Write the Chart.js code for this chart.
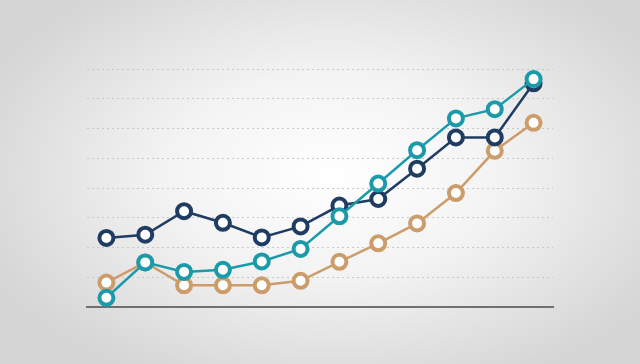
<!DOCTYPE html>
<html>
<head>
<meta charset="utf-8">
<script src="https://cdn.jsdelivr.net/npm/chart.js@4/dist/chart.umd.min.js"></script>
<style>
  html, body { margin: 0; padding: 0; }
  body {
    width: 640px; height: 364px; overflow: hidden;
    background: radial-gradient(ellipse 58% 62% at 52% 48%, #ffffff 0%, #f3f3f3 45%, #d6d6d6 100%);
  }
  #wrap { width: 640px; height: 364px; }
</style>
</head>
<body>
<div id="wrap"><canvas id="chart" width="640" height="364"></canvas></div>
<script>
  const labels = ["1", "2", "3", "4", "5", "6", "7", "8", "9", "10", "11", "12"];
  const navyValues = [2.32, 2.43, 3.22, 2.83, 2.34, 2.71, 3.41, 3.63, 4.65, 5.70, 5.70, 7.52];
  const tealValues = [0.31, 1.50, 1.18, 1.25, 1.53, 1.95, 3.05, 4.15, 5.27, 6.34, 6.65, 7.66];
  const tanValues = [0.82, 1.50, 0.73, 0.73, 0.73, 0.88, 1.52, 2.14, 2.81, 3.83, 5.25, 6.19];

  function series(data, color, order) {
    return {
      data: data,
      borderColor: color,
      borderWidth: 2.5,
      pointBackgroundColor: "#ffffff",
      pointBorderColor: color,
      pointBorderWidth: 4,
      pointRadius: 7,
      pointHoverRadius: 7,
      tension: 0,
      clip: false,
      order: order,
    };
  }

  new Chart(document.getElementById("chart"), {
    type: "line",
    data: {
      labels: labels,
      datasets: [
        series(tealValues, "#1b9aa9", 0),
        series(navyValues, "#1f3c63", 1),
        series(tanValues, "#cc9d6b", 2),
      ],
    },
    options: {
      responsive: false,
      animation: false,
      layout: { padding: { left: 87, right: 87, top: 69, bottom: 57 } },
      plugins: { legend: { display: false }, tooltip: { enabled: false } },
      scales: {
        x: {
          offset: true,
          ticks: { display: false },
          grid: { display: false, drawTicks: false },
          border: { display: true, color: "#707070", width: 2 },
        },
        y: {
          min: 0,
          max: 8,
          ticks: { display: false, stepSize: 1 },
          grid: {
            drawTicks: false,
            color: (ctx) => (ctx.tick && ctx.tick.value === 0 ? "rgba(0,0,0,0)" : "#c8c8c8"),
            lineWidth: 1,
          },
          border: { display: false, dash: [2, 3] },
        },
      },
    },
  });
</script>
</body>
</html>
